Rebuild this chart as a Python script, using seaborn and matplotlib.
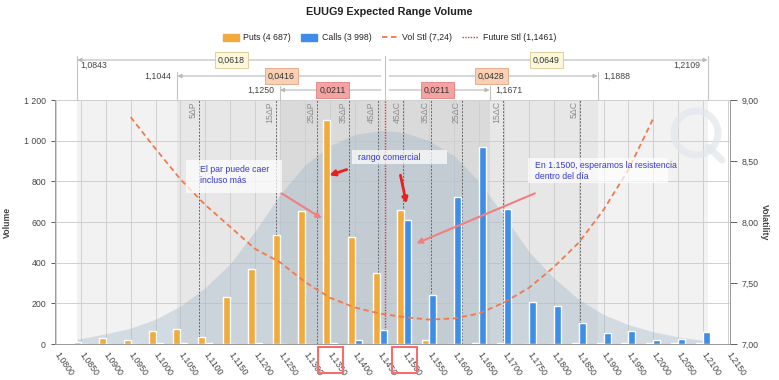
import numpy as np
import pandas as pd
import seaborn as sns
import matplotlib.pyplot as plt
from matplotlib.patches import Rectangle, Patch, Ellipse
from matplotlib.lines import Line2D
from matplotlib.ticker import FuncFormatter, MultipleLocator

# --- data ---
strikes = [1.0850, 1.0900, 1.0950, 1.1000, 1.1050, 1.1100, 1.1150, 1.1200, 1.1250,
           1.1300, 1.1350, 1.1400, 1.1450, 1.1500, 1.1550, 1.1600, 1.1650, 1.1700,
           1.1750, 1.1800, 1.1850, 1.1900, 1.1950, 1.2000, 1.2050, 1.2100]
puts = [8, 30, 20, 65, 72, 33, 232, 370, 535, 655, 1100, 525, 350, 660, 20, 0,
        3, 3, 0, 0, 3, 3, 3, 3, 3, 3]
calls = [0, 0, 0, 4, 4, 4, 0, 4, 0, 0, 4, 20, 68, 612, 241, 725, 967, 662,
         207, 188, 104, 55, 62, 18, 26, 60]

vol_strikes = [1.0950, 1.1000, 1.1050, 1.1100, 1.1150, 1.1200, 1.1250, 1.1300,
               1.1350, 1.1400, 1.1450, 1.1500, 1.1550, 1.1600, 1.1650, 1.1700,
               1.1750, 1.1800, 1.1850, 1.1900, 1.1950, 1.2000]
vol = [8.86, 8.60, 8.35, 8.14, 7.96, 7.78, 7.67, 7.51, 7.38, 7.30, 7.25, 7.22,
       7.20, 7.21, 7.25, 7.34, 7.46, 7.63, 7.83, 8.10, 8.43, 8.85]

bell_x = [1.0843, 1.0850, 1.0900, 1.0950, 1.1000, 1.1050, 1.1100, 1.1150, 1.1200,
          1.1250, 1.1300, 1.1350, 1.1400, 1.1450, 1.1461, 1.1500, 1.1550, 1.1600,
          1.1650, 1.1700, 1.1750, 1.1800, 1.1850, 1.1900, 1.1950, 1.2000, 1.2050,
          1.2100, 1.2109]
bell_y = [25, 27, 50, 78, 122, 187, 278, 395, 555, 735, 880, 975, 1030, 1049,
          1050, 1040, 1000, 925, 800, 630, 455, 325, 220, 145, 95, 60, 35, 18, 16]

future_stl = 1.1461
delta_labels = ['5ΔP', '15ΔP', '25ΔP', '35ΔP', '45ΔP', '45ΔC', '35ΔC', '25ΔC', '15ΔC', '5ΔC']
delta_strikes = [1.1088, 1.1241, 1.1325, 1.1389, 1.1446, 1.1497, 1.1554, 1.1615, 1.1698, 1.1852]

range_low = [1.0843, 1.1044, 1.1250]
range_high = [1.2109, 1.1888, 1.1671]
low_text = ['1,0843', '1,1044', '1,1250']
high_text = ['1,2109', '1,1888', '1,1671']
down_text = ['0,0618', '0,0416', '0,0211']
up_text = ['0,0649', '0,0428', '0,0211']

boxed_ticks = [1.1350, 1.1500]

df = pd.DataFrame({'strike': strikes, 'puts': puts, 'calls': calls})

# --- style ---
sns.set_style('white')
plt.rcParams['font.family'] = ['Liberation Sans', 'DejaVu Sans']

put_c = '#F2AA3C'
call_c = '#3E8DE8'
vol_c = '#F07A4A'
fut_c = '#E03535'
txt_blue = '#3B3BC9'
fs = 6.3

fig = plt.figure(figsize=(7.79, 3.8), dpi=100)
ax = fig.add_axes([0.0706, 0.0947, 0.8665, 0.6421])
ax2 = ax.twinx()

# shaded range bands
band_cols = ['#f2f2f2', '#e7e7e7', '#dadada']
for lo, hi, c in zip(range_low, range_high, band_cols):
    ax.axvspan(lo, hi, color=c, zorder=0, lw=0)

# expected distribution
ax.fill_between(bell_x, bell_y, color='#9fb4ca', alpha=0.38, lw=0, zorder=1)

# bars
ax.bar(df['strike'], df['puts'], width=-0.0014, align='edge', color=put_c, zorder=3)
ax.bar(df['strike'], df['calls'], width=0.0014, align='edge', color=call_c, zorder=3)

# delta lines
for s, lab in zip(delta_strikes, delta_labels):
    ax.axvline(s, color='#666666', ls=(0, (2, 1.5)), lw=0.7, zorder=2)
    ax.text(s - 0.0003, 0.995, lab, rotation=90, ha='right', va='top', fontsize=fs,
            color='#8c8c8c', transform=ax.get_xaxis_transform(), zorder=2)
ax.axvline(future_stl, color=fut_c, ls=(0, (1, 1)), lw=1.0, zorder=2.5)

ax.set_xlim(1.0798, 1.2154)
ax.set_ylim(0, 1200)
ax.xaxis.set_major_locator(MultipleLocator(0.005))
ax.yaxis.set_major_locator(MultipleLocator(200))
ax.xaxis.set_major_formatter(FuncFormatter(lambda v, p: f'{v:.4f}'.replace('.', ',')))
ax.yaxis.set_major_formatter(FuncFormatter(lambda v, p: f'{int(round(v)):,}'.replace(',', ' ')))
ax.set_axisbelow(True)
ax.grid(True, color='#cfcfcf', lw=0.7)
ax.tick_params(axis='both', labelsize=fs, colors='#444444', length=3, width=0.6)
for lab in ax.get_xticklabels():
    lab.set_rotation(-55)
    lab.set_ha('left')
    lab.set_va('center')
    lab.set_rotation_mode('anchor')
for sp in ['top', 'right']:
    ax.spines[sp].set_visible(False)
for sp in ['left', 'bottom']:
    ax.spines[sp].set_color('#999999')
    ax.spines[sp].set_linewidth(0.7)
ax.set_xlabel('')
ax.set_ylabel('Volume', fontsize=fs, fontweight='bold', color='#444444')
ax.yaxis.set_label_coords(-0.064, 0.5)

# volatility smile on secondary axis
sns.lineplot(x=vol_strikes, y=vol, ax=ax2, color=vol_c, lw=1.3, linestyle=(0, (3, 2)),
             sort=False, zorder=3)
ax2.set_ylim(7.0, 9.0)
ax2.yaxis.set_major_locator(MultipleLocator(0.5))
ax2.yaxis.set_major_formatter(FuncFormatter(lambda v, p: f'{v:.2f}'.replace('.', ',')))
ax2.tick_params(axis='y', labelsize=fs, colors='#444444', length=5, width=0.6)
for sp in ['top', 'left', 'bottom']:
    ax2.spines[sp].set_visible(False)
ax2.spines['right'].set_color('#999999')
ax2.spines['right'].set_linewidth(0.7)
ax2.set_ylabel('Volatility', fontsize=fs, fontweight='bold', color='#444444', rotation=-90)
ax2.yaxis.set_label_coords(1.057, 0.5)

# comment boxes (drawn over the vol curve)
T = ax.transData
boxes = [(1.1061, 742, 1.1254, 904), (1.1394, 885, 1.1585, 953), (1.1748, 791, 1.2029, 914)]
for x0, y0, x1, y1 in boxes:
    ax2.add_patch(Rectangle((x0, y0), x1 - x0, y1 - y0, transform=T, facecolor='white',
                            alpha=0.7, lw=0, zorder=4))
ax2.text(1.1089, 830, 'El par puede caer\nincluso más', transform=T, fontsize=fs,
         color=txt_blue, va='center', ha='left', linespacing=1.3, zorder=5)
ax2.text(1.1406, 919, 'rango comercial', transform=T, fontsize=fs,
         color=txt_blue, va='center', ha='left', zorder=5)
ax2.text(1.1762, 852, 'En 1.1500, esperamos la resistencia\ndentro del día', transform=T,
         fontsize=fs, color=txt_blue, va='center', ha='left', linespacing=1.3, zorder=5)

arrows = [((1.1384, 858), (1.1349, 830), '#E82020', 2.0),
          ((1.1492, 830), (1.1504, 691), '#E82020', 2.0),
          ((1.1253, 741), (1.1334, 618), '#F08080', 1.5),
          ((1.1762, 741), (1.1524, 495), '#F08080', 1.5)]
for start, end, c, w in arrows:
    ax2.annotate('', xy=end, xytext=start, xycoords=T, textcoords=T, zorder=6,
                 arrowprops=dict(arrowstyle='-|>', color=c, lw=w, mutation_scale=8,
                                 shrinkA=0, shrinkB=0))

# expected range rows above the plot
xt = ax.get_xaxis_transform()
row_y = [(344 - 60) / 244, (344 - 76) / 244, (344 - 90) / 244]
box_fc = ['#fdf8dc', '#f9d0b4', '#f4a3a3']
box_ec = ['#d8c890', '#e3a582', '#e08080']
ax.plot([future_stl, future_stl], [1.0, 1.18], transform=xt, color='#c4c4c4', lw=0.8, clip_on=False)
for i, yf in enumerate(row_y):
    lo, hi = range_low[i], range_high[i]
    for end in (lo, hi):
        ax.plot([end, end], [1.0, yf + 0.015], transform=xt, color='#c4c4c4', lw=0.8, clip_on=False)
        ax.annotate('', xy=(end, yf), xytext=(future_stl, yf), xycoords=xt, textcoords=xt,
                    annotation_clip=False,
                    arrowprops=dict(arrowstyle='-|>', color='#b8b8b8', lw=0.8,
                                    mutation_scale=6, shrinkA=3, shrinkB=0))
    bkw = dict(boxstyle='square,pad=0.35', fc=box_fc[i], ec=box_ec[i], lw=0.6)
    ax.text((lo + future_stl) / 2, yf, down_text[i], transform=xt, ha='center', va='center',
            fontsize=fs, color='#333333', bbox=bkw, clip_on=False)
    ax.text((hi + future_stl) / 2, yf, up_text[i], transform=xt, ha='center', va='center',
            fontsize=fs, color='#333333', bbox=bkw, clip_on=False)
    if i == 0:
        ax.text(lo + 0.0006, yf - 0.022, low_text[i], transform=xt, ha='left', va='center',
                fontsize=fs, color='#444444', clip_on=False)
        ax.text(hi - 0.0014, yf - 0.022, high_text[i], transform=xt, ha='right', va='center',
                fontsize=fs, color='#444444', clip_on=False)
    else:
        ax.text(lo - 0.0012, yf, low_text[i], transform=xt, ha='right', va='center',
                fontsize=fs, color='#444444', clip_on=False)
        ax.text(hi + 0.0012, yf, high_text[i], transform=xt, ha='left', va='center',
                fontsize=fs, color='#444444', clip_on=False)

# red boxes on highlighted tick labels
for s in boxed_ticks:
    ax.add_patch(Rectangle((s - 0.0024, -0.119), 0.005, 0.107, transform=xt, fill=False,
                           ec='#F07070', lw=1.5, clip_on=False, zorder=5))

# faint watermark
fig.patches.append(Ellipse((696 / 779, 1 - 133 / 380), 44 / 779, 44 / 380,
                           transform=fig.transFigure, fill=False, ec='#e2e6eb', lw=5, alpha=0.7))
fig.lines.append(Line2D([708 / 779, 722 / 779], [1 - 147 / 380, 1 - 160 / 380],
                        transform=fig.transFigure, color='#e2e6eb', lw=5, alpha=0.7))

# title and legend
fig.text(0.5, 1 - 12 / 380, 'EUUG9 Expected Range Volume', ha='center', va='center',
         fontsize=7.8, fontweight='bold', color='#222222')
handles = [Patch(color=put_c, label='Puts (4 687)'),
           Patch(color=call_c, label='Calls (3 998)'),
           Line2D([], [], color=vol_c, ls=(0, (3, 2)), lw=1.3, label='Vol Stl (7,24)'),
           Line2D([], [], color=fut_c, ls=(0, (1, 1)), lw=1.0, label='Future Stl (1,1461)')]
fig.legend(handles=handles, loc='center', bbox_to_anchor=(0.5, 1 - 38 / 380), ncol=4,
           frameon=False, fontsize=fs, handlelength=1.8, handleheight=0.8,
           columnspacing=1.2, handletextpad=0.5)

plt.savefig('out.png', dpi=100)
